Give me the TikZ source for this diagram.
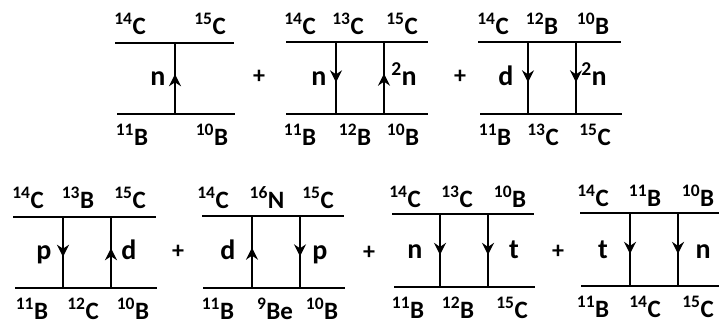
\documentclass[tikz,border=0pt]{standalone}
\usepackage{fontspec}
\setmainfont{Carlito}
\usepackage{tikz}
\usetikzlibrary{arrows.meta,calc}
\tikzset{
  nuc/.style={anchor=base, inner sep=0pt, font=\fontsize{25}{25}\selectfont\bfseries},
  part/.style={anchor=base, inner sep=0pt, font=\fontsize{28}{28}\selectfont\bfseries},
  plus/.style={inner sep=0pt, font=\fontsize{24}{24}\selectfont\bfseries},
  lin/.style={line width=2.4pt},
  head/.style={line width=2.4pt, -{Stealth[length=12pt,width=12pt,inset=4pt]}},
}
\newcommand{\iso}[2]{\textsuperscript{#1}#2}
\newcommand{\prop}[2]{\draw[lin] (#1) -- (#2); \draw[head] (#1) -- ($(#1)!0.56!(#2)$);}

\begin{document}
\begin{tikzpicture}[x=1pt,y=-1pt]
    \useasboundingbox (0,0) rectangle (719,324);

    % first row
    \coordinate (l1a) at (115,43);  \coordinate (l1b) at (234,43);
    \coordinate (l1c) at (117,114); \coordinate (l1d) at (235,114);
    \coordinate (v1t) at (175,43);  \coordinate (v1b) at (175,114);
    \draw[lin] (l1a) -- (l1b);
    \draw[lin] (l1c) -- (l1d);
    \prop{v1b}{v1t}
    \node[nuc] (c14a) at (130,34) {\iso{14}{C}};
    \node[nuc] (c15a) at (210,34) {\iso{15}{C}};
    \node[nuc] (b11a) at (132,145) {\iso{11}{B}};
    \node[nuc] (b10a) at (212,145) {\iso{10}{B}};
    \node[part] (n1) at (158,85) {n};
    \node[plus] (p1) at (259,77) {+};

    \coordinate (l2a) at (286,42);  \coordinate (l2b) at (428,42);
    \coordinate (l2c) at (286,114); \coordinate (l2d) at (428,114);
    \coordinate (v2t) at (336,42);  \coordinate (v2b) at (336,114);
    \coordinate (v3t) at (384,42);  \coordinate (v3b) at (384,114);
    \draw[lin] (l2a) -- (l2b);
    \draw[lin] (l2c) -- (l2d);
    \prop{v2t}{v2b}
    \prop{v3b}{v3t}
    \node[nuc] (c14b) at (300,34) {\iso{14}{C}};
    \node[nuc] (c13b) at (348,34) {\iso{13}{C}};
    \node[nuc] (c15b) at (402,34) {\iso{15}{C}};
    \node[nuc] (b11b) at (300,145) {\iso{11}{B}};
    \node[nuc] (b12b) at (355,145) {\iso{12}{B}};
    \node[nuc] (b10b) at (403,145) {\iso{10}{B}};
    \node[part] (n2) at (319,85) {n};
    \node[part] (nn2) at (404,85) {\iso{2}{n}};
    \node[plus] (p2) at (460,77) {+};

    \coordinate (l3a) at (478,42);  \coordinate (l3b) at (621,42);
    \coordinate (l3c) at (480,114); \coordinate (l3d) at (622,114);
    \coordinate (v4t) at (528,42);  \coordinate (v4b) at (528,114);
    \coordinate (v5t) at (576,42);  \coordinate (v5b) at (576,114);
    \draw[lin] (l3a) -- (l3b);
    \draw[lin] (l3c) -- (l3d);
    \prop{v4t}{v4b}
    \prop{v5t}{v5b}
    \node[nuc] (c14c) at (493,34) {\iso{14}{C}};
    \node[nuc] (b12c) at (542,34) {\iso{12}{B}};
    \node[nuc] (b10c) at (593,34) {\iso{10}{B}};
    \node[nuc] (b11c) at (495,145) {\iso{11}{B}};
    \node[nuc] (c13c) at (543,145) {\iso{13}{C}};
    \node[nuc] (c15c) at (595,145) {\iso{15}{C}};
    \node[part] (d3) at (506,85) {d};
    \node[part] (nn3) at (594,85) {\iso{2}{n}};

    % second row
    \coordinate (l4a) at (13,217);  \coordinate (l4b) at (156,217);
    \coordinate (l4c) at (15,288);  \coordinate (l4d) at (157,288);
    \coordinate (v6t) at (63,217);  \coordinate (v6b) at (63,288);
    \coordinate (v7t) at (111,217); \coordinate (v7b) at (111,288);
    \draw[lin] (l4a) -- (l4b);
    \draw[lin] (l4c) -- (l4d);
    \prop{v6t}{v6b}
    \prop{v7b}{v7t}
    \node[nuc] (c14d) at (28,208) {\iso{14}{C}};
    \node[nuc] (b13d) at (78,208) {\iso{13}{B}};
    \node[nuc] (c15d) at (130,208) {\iso{15}{C}};
    \node[nuc] (b11d) at (32,319) {\iso{11}{B}};
    \node[nuc] (c12d) at (83,319) {\iso{12}{C}};
    \node[nuc] (b10d) at (133,319) {\iso{10}{B}};
    \node[part] (p4) at (44,259) {p};
    \node[part] (d4) at (129,259) {d};
    \node[plus] (p5) at (178,252) {+};

    \coordinate (l5a) at (202,216); \coordinate (l5b) at (344,216);
    \coordinate (l5c) at (203,288); \coordinate (l5d) at (345,288);
    \coordinate (v8t) at (252,216); \coordinate (v8b) at (252,288);
    \coordinate (v9t) at (300,216); \coordinate (v9b) at (300,288);
    \draw[lin] (l5a) -- (l5b);
    \draw[lin] (l5c) -- (l5d);
    \prop{v8b}{v8t}
    \prop{v9t}{v9b}
    \node[nuc] (c14e) at (213,208) {\iso{14}{C}};
    \node[nuc] (n16e) at (267,208) {\iso{16}{N}};
    \node[nuc] (c15e) at (318,208) {\iso{15}{C}};
    \node[nuc] (b11e) at (218,319) {\iso{11}{B}};
    \node[nuc] (be9e) at (275,319) {\iso{9}{Be}};
    \node[nuc] (b10e) at (322,319) {\iso{10}{B}};
    \node[part] (d5) at (228,259) {d};
    \node[part] (p5b) at (320,259) {p};
    \node[plus] (p6) at (369,253) {+};

    \coordinate (l6a) at (392,214); \coordinate (l6b) at (534,214);
    \coordinate (l6c) at (394,287); \coordinate (l6d) at (535,287);
    \coordinate (v10t) at (440,214); \coordinate (v10b) at (440,287);
    \coordinate (v11t) at (488,214); \coordinate (v11b) at (488,287);
    \draw[lin] (l6a) -- (l6b);
    \draw[lin] (l6c) -- (l6d);
    \prop{v10t}{v10b}
    \prop{v11t}{v11b}
    \node[nuc] (c14f) at (405,207) {\iso{14}{C}};
    \node[nuc] (c13f) at (457,207) {\iso{13}{C}};
    \node[nuc] (b10f) at (510,207) {\iso{10}{B}};
    \node[nuc] (b11f) at (408,318) {\iso{11}{B}};
    \node[nuc] (b12f) at (458,318) {\iso{12}{B}};
    \node[nuc] (c15f) at (512,318) {\iso{15}{C}};
    \node[part] (n6) at (415,258) {n};
    \node[part] (t6) at (514,258) {t};
    \node[plus] (p7) at (558,252) {+};

    \coordinate (l7a) at (580,213); \coordinate (l7b) at (719,213);
    \coordinate (l7c) at (581,286); \coordinate (l7d) at (719,286);
    \coordinate (v12t) at (630,213); \coordinate (v12b) at (630,286);
    \coordinate (v13t) at (678,213); \coordinate (v13b) at (678,286);
    \draw[lin] (l7a) -- (l7b);
    \draw[lin] (l7c) -- (l7d);
    \prop{v12t}{v12b}
    \prop{v13t}{v13b}
    \node[nuc] (c14g) at (593,206) {\iso{14}{C}};
    \node[nuc] (b11g) at (645,206) {\iso{11}{B}};
    \node[nuc] (b10g) at (698,206) {\iso{10}{B}};
    \node[nuc] (b11h) at (593,317) {\iso{11}{B}};
    \node[nuc] (c14h) at (645,317) {\iso{14}{C}};
    \node[nuc] (c15h) at (698,317) {\iso{15}{C}};
    \node[part] (t7) at (603,258) {t};
    \node[part] (n7) at (703,258) {n};
\end{tikzpicture}
\end{document}
